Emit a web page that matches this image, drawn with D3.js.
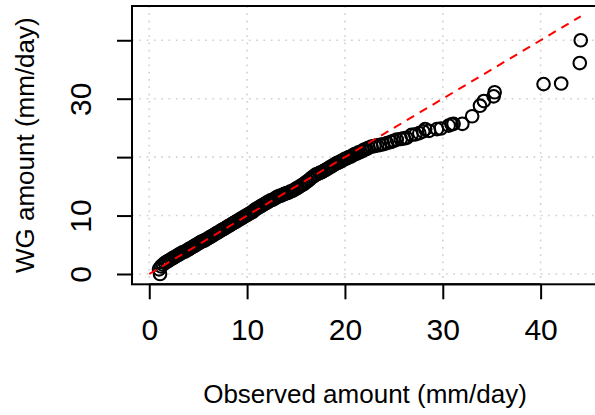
<!DOCTYPE html>
<html><head><meta charset="utf-8">
<script src="https://cdn.jsdelivr.net/npm/d3@7"></script>
<style>body{margin:0;background:#fff}svg{display:block}text{font-family:"Liberation Sans",Arial,Helvetica,sans-serif;fill:#000}</style>
</head><body>
<script>
// QQ plot: sorted observed quantiles vs sorted WG quantiles (mm/day)
const observed = [1.1,
  1.0,1.2,1.4,1.6,1.8,2.0,2.2,2.4,2.6,2.8,3.0,3.2,3.4,3.6,3.8,4.0,4.2,4.4,4.6,4.8,
  5.0,5.2,5.4,5.6,5.8,6.0,6.2,6.4,6.6,6.8,7.0,7.2,7.4,7.6,7.8,8.0,8.2,8.4,8.6,8.8,
  9.0,9.2,9.4,9.6,9.8,10.0,10.2,10.4,10.6,10.8,11.0,11.2,11.4,11.6,11.8,12.0,12.2,12.4,12.6,12.8,
  13.0,13.2,13.4,13.6,13.8,14.0,14.2,14.4,14.6,14.8,15.0,15.2,15.4,15.6,15.8,16.0,16.2,16.4,16.6,16.8,
  17.0,17.2,17.4,17.6,17.8,18.0,18.2,18.4,18.6,18.8,19.0,19.2,19.4,19.6,19.8,20.0,20.2,20.4,20.6,20.8,
  21.0,21.2,21.4,21.6,21.8,22.0,22.2,22.4,
  22.7,23.0,23.3,23.6,23.9,24.3,24.7,25.0,25.3,25.7,26.0,26.3,26.8,27.2,27.6,28.0,28.2,28.6,29.4,29.8,
  30.6,30.9,31.1,32.0,33.0,33.8,34.2,35.2,35.3,
  40.3,42.1,44.0,44.1];
const wgAmount = [0.0,
  0.8,1.3,1.6,1.9,2.1,2.3,2.5,2.7,2.9,3.1,3.3,3.5,3.7,3.8,4.0,4.2,4.4,4.6,4.8,5.0,
  5.2,5.4,5.6,5.7,5.9,6.1,6.3,6.5,6.7,6.9,7.1,7.3,7.5,7.7,7.9,8.1,8.3,8.5,8.7,8.9,
  9.1,9.3,9.5,9.7,9.9,10.1,10.3,10.5,10.7,11.0,11.2,11.4,11.6,11.8,12.0,12.2,12.4,12.6,12.7,12.9,
  13.1,13.3,13.4,13.5,13.7,13.8,13.9,14.1,14.2,14.4,14.6,14.8,15.0,15.2,15.4,15.7,15.9,16.2,16.5,16.7,
  17.0,17.1,17.3,17.4,17.6,17.8,18.0,18.2,18.4,18.6,18.8,19.0,19.1,19.3,19.5,19.7,19.8,20.0,20.1,20.3,
  20.5,20.6,20.8,20.9,21.1,21.3,21.4,21.6,
  21.8,21.9,22.0,22.1,22.2,22.4,22.6,22.8,23.0,23.1,23.2,23.3,23.8,23.9,24.1,24.4,24.8,24.5,24.8,24.9,
  25.4,25.6,25.7,25.7,27.0,28.8,29.6,30.4,31.1,
  32.5,32.6,36.1,40.0];
const refLine = [0, 44.1];          // 1:1 line
const axisLimits = [0, 44.1];       // data range used for both axes
const xTicks = [0, 10, 20, 30, 40];
const xTickLabels = ["0", "10", "20", "30", "40"];
const yTicks = [0, 10, 20, 30, 40];
const yTickLabels = ["0", "10", "", "30", ""];
const xTitle = "Observed amount (mm/day)";
const yTitle = "WG amount (mm/day)";

const W = 595, H = 415;
const plot = {left: 132, right: 598, top: 6, bottom: 284.3};
const pad = (axisLimits[1] - axisLimits[0]) * 0.04;
const x = d3.scaleLinear().domain([axisLimits[0] - pad, axisLimits[1] + pad]).range([plot.left, plot.right]);
const y = d3.scaleLinear().domain([axisLimits[0] - pad, axisLimits[1] + pad]).range([plot.bottom, plot.top]);

const svg = d3.select("body").append("svg").attr("width", W).attr("height", H);

// grid
const grid = svg.append("g").attr("stroke", "#D3D3D3").attr("stroke-width", 1.6).attr("stroke-dasharray", "1.8,5.5");
grid.selectAll(".gv").data(xTicks).join("line")
  .attr("x1", d => x(d)).attr("x2", d => x(d)).attr("y1", plot.top).attr("y2", plot.bottom);
grid.selectAll(".gh").data(yTicks).join("line")
  .attr("y1", d => y(d)).attr("y2", d => y(d)).attr("x1", plot.left).attr("x2", plot.right);

// points
const pts = observed.map((v, i) => [v, wgAmount[i]]);
svg.append("g").selectAll("circle").data(pts).join("circle")
  .attr("cx", d => x(d[0])).attr("cy", d => y(d[1])).attr("r", 6.3)
  .attr("fill", "none").attr("stroke", "#000").attr("stroke-width", 2.1);

// 1:1 line
svg.append("line")
  .attr("x1", x(refLine[0])).attr("y1", y(refLine[0]))
  .attr("x2", x(refLine[1])).attr("y2", y(refLine[1]))
  .attr("stroke", "#FF0000").attr("stroke-width", 2).attr("stroke-dasharray", "8.5,6.5");

// box
svg.append("rect").attr("x", plot.left).attr("y", plot.top)
  .attr("width", plot.right - plot.left).attr("height", plot.bottom - plot.top)
  .attr("fill", "none").attr("stroke", "#000").attr("stroke-width", 2);

// x axis
const xa = svg.append("g").attr("transform", `translate(0,${plot.bottom})`)
  .call(d3.axisBottom(x).tickValues(xTicks).tickSize(15).tickSizeOuter(0)
    .tickFormat((d, i) => xTickLabels[i]).tickPadding(4));
xa.select(".domain").attr("d", `M${x(xTicks[0])},0H${x(xTicks[xTicks.length-1])}`).attr("stroke-width", 2);
xa.selectAll(".tick line").attr("stroke-width", 2);
xa.selectAll(".tick text").attr("font-size", 30).attr("dy", null).attr("y", 55.7);

// y axis
const ya = svg.append("g").attr("transform", `translate(${plot.left},0)`)
  .call(d3.axisLeft(y).tickValues(yTicks).tickSize(15).tickSizeOuter(0)
    .tickFormat((d, i) => yTickLabels[i]));
ya.select(".domain").attr("d", `M0,${y(yTicks[0])}V${y(yTicks[yTicks.length-1])}`).attr("stroke-width", 2);
ya.selectAll(".tick line").attr("stroke-width", 2);
ya.selectAll(".tick text").attr("font-size", 30).attr("x", null).attr("dy", null)
  .attr("text-anchor", "middle").attr("transform", "translate(-41,0) rotate(-90)");

// titles
svg.append("text").attr("x", (plot.left + plot.right) / 2).attr("y", 403)
  .attr("text-anchor", "middle").attr("font-size", 26).text(xTitle);
svg.append("text").attr("transform", `translate(33.5,${(plot.top + plot.bottom) / 2}) rotate(-90)`)
  .attr("text-anchor", "middle").attr("font-size", 26).text(yTitle);
</script>
</body></html>
